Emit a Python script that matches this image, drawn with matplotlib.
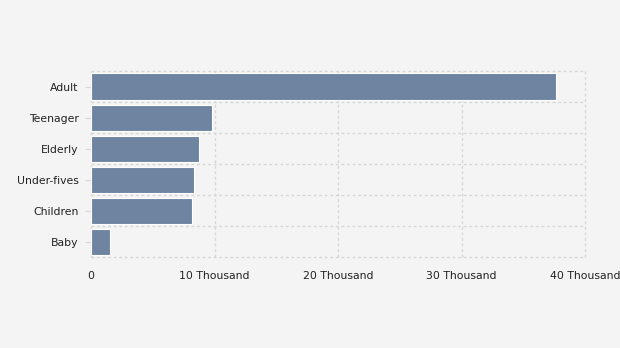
import matplotlib
matplotlib.use("Agg")
import matplotlib.pyplot as plt
from matplotlib.ticker import FuncFormatter, MultipleLocator

# age groups, bottom to top
groups = ["Baby", "Children", "Under-fives", "Elderly", "Teenager", "Adult"]
counts = [1500, 8200, 8350, 8700, 9800, 37600]

bg = "#f4f4f4"
fig = plt.figure(figsize=(6.2, 3.48), dpi=100, facecolor=bg)
ax = fig.add_axes([0.147, 0.261, 0.797, 0.535], facecolor=bg)

pos = range(len(groups))
ax.barh(pos, counts, height=0.84, color="#6e84a0", edgecolor="#ffffff", linewidth=0.8, zorder=2)

ax.set_xlim(0, 40000)
ax.set_ylim(-0.5, len(groups) - 0.5)
ax.xaxis.set_major_locator(MultipleLocator(10000))
ax.xaxis.set_major_formatter(FuncFormatter(lambda v, p: "0" if v == 0 else "%d Thousand" % (v / 1000)))
ax.set_yticks(list(pos))
ax.set_yticklabels(groups)

# dotted grid: vertical at ticks, horizontal between category bands
ax.set_yticks([i - 0.5 for i in range(len(groups) + 1)], minor=True)
ax.grid(axis="x", which="major", color="#d6d6d6", linestyle=(0, (2, 2)), linewidth=1, zorder=0)
ax.grid(axis="y", which="minor", color="#d6d6d6", linestyle=(0, (2, 2)), linewidth=1, zorder=0)
for tick in ax.xaxis.get_major_ticks() + ax.yaxis.get_minor_ticks():
    tick.gridline.set_clip_on(False)
ax.tick_params(axis="y", which="minor", length=0)
ax.tick_params(axis="y", which="major", length=4, color="#d6d6d6", pad=5, labelsize=7.8, labelcolor="#222222")
ax.tick_params(axis="x", length=0, pad=10, labelsize=7.8, labelcolor="#222222")

for s in ax.spines.values():
    s.set_visible(False)

fig.savefig("out.png", dpi=100, facecolor=bg)
